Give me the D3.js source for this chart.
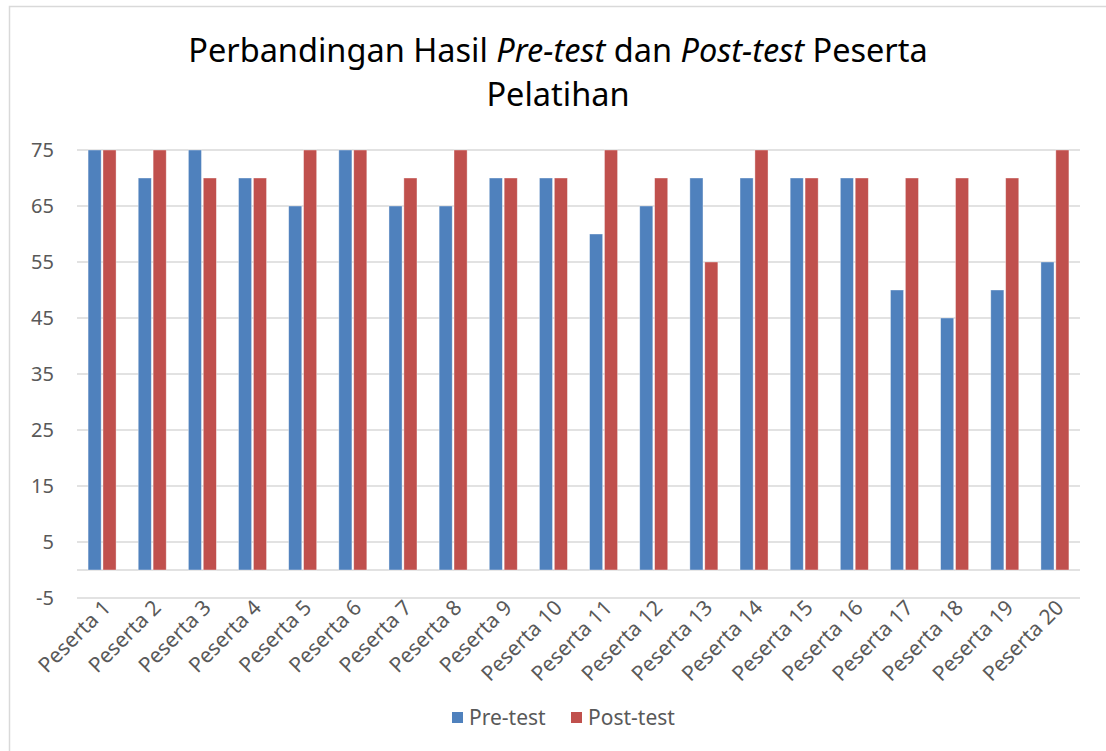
<!DOCTYPE html>
<html>
<head>
<meta charset="utf-8">
<script src="https://cdn.jsdelivr.net/npm/d3@7"></script>
<style>
  body { margin: 0; background: #fff; }
  svg text { font-family: "Noto Sans", "Open Sans", sans-serif; }
</style>
</head>
<body>
<svg id="chart" width="1106" height="751"></svg>
<script>
var categories = ["Peserta 1", "Peserta 2", "Peserta 3", "Peserta 4", "Peserta 5",
		"Peserta 6", "Peserta 7", "Peserta 8", "Peserta 9", "Peserta 10",
		"Peserta 11", "Peserta 12", "Peserta 13", "Peserta 14", "Peserta 15",
		"Peserta 16", "Peserta 17", "Peserta 18", "Peserta 19", "Peserta 20"];
var preTest = [75, 70, 75, 70, 65, 75, 65, 65, 70, 70, 60, 65, 70, 70, 70, 70, 50, 45, 50, 55];
var postTest = [75, 75, 70, 70, 75, 75, 70, 75, 70, 70, 75, 70, 55, 75, 70, 70, 70, 70, 70, 75];
var seriesNames = ["Pre-test", "Post-test"];
var seriesColors = ["#4F81BD", "#C0504D"];
var yTicks = [-5, 5, 15, 25, 35, 45, 55, 65, 75];

var svg = d3.select("#chart");

// chart frame (cropped on the right and bottom)
svg.append("rect")
	.attr("x", 9.5).attr("y", 6.5)
	.attr("width", 1200).attr("height", 900)
	.attr("fill", "#fff")
	.attr("stroke", "#d9d9d9")
	.attr("stroke-width", 1.5);

// title
var title = svg.append("text")
	.attr("text-anchor", "middle")
	.attr("fill", "#000")
	.style("font-size", "32.5px");
var line1 = title.append("tspan").attr("x", 558).attr("y", 62);
line1.append("tspan").text("Perbandingan Hasil ");
line1.append("tspan").style("font-style", "italic").text("Pre-test");
line1.append("tspan").text(" dan ");
line1.append("tspan").style("font-style", "italic").text("Post-test");
line1.append("tspan").text(" Peserta");
title.append("tspan").attr("x", 558).attr("y", 106).text("Pelatihan");

var x = d3.scaleBand().domain(categories).range([77, 1080]);
var y = d3.scaleLinear().domain([-5, 75]).range([598, 150]);

// gridlines
svg.append("g").selectAll("line").data(yTicks.concat([0])).enter().append("line")
	.attr("x1", 77).attr("x2", 1080)
	.attr("y1", function(d) { return y(d); })
	.attr("y2", function(d) { return y(d); })
	.attr("stroke", "#d9d9d9")
	.attr("stroke-width", 1.5);

// y axis labels
svg.append("g").selectAll("text").data(yTicks).enter().append("text")
	.attr("x", 54)
	.attr("y", function(d) { return y(d); })
	.attr("dy", "0.35em")
	.attr("text-anchor", "end")
	.attr("fill", "#595959")
	.style("font-size", "20px")
	.text(function(d) { return d; });

// bars
var sub = d3.scaleBand().domain([0, 1]).range([-14, 14]).paddingInner(0.12);
var series = [preTest, postTest];
series.forEach(function(vals, s) {
	svg.append("g").selectAll("rect").data(vals).enter().append("rect")
		.attr("x", function(d, i) { return x(categories[i]) + x.bandwidth() / 2 + sub(s); })
		.attr("width", sub.bandwidth())
		.attr("y", function(d) { return y(d); })
		.attr("height", function(d) { return y(0) - y(d); })
		.attr("fill", seriesColors[s])
		.attr("stroke", "#fff")
		.attr("stroke-opacity", 0.5)
		.attr("stroke-width", 0.75);
});

// x labels
svg.append("g").selectAll("text").data(categories).enter().append("text")
	.attr("transform", function(d) {
		var cx = x(d) + x.bandwidth() / 2 + 10;
		return "translate(" + cx + ",609) rotate(-45)";
	})
	.attr("text-anchor", "end")
	.attr("fill", "#595959")
	.style("font-size", "21px")
	.text(function(d) { return d; });

// legend
var legend = svg.append("g");
var legendX = [452, 571];
seriesNames.forEach(function(name, s) {
	legend.append("rect")
		.attr("x", legendX[s]).attr("y", 712)
		.attr("width", 11).attr("height", 11)
		.attr("fill", seriesColors[s]);
	legend.append("text")
		.attr("x", legendX[s] + 17).attr("y", 725)
		.attr("fill", "#595959")
		.style("font-size", "21px")
		.text(name);
});
</script>
</body>
</html>
